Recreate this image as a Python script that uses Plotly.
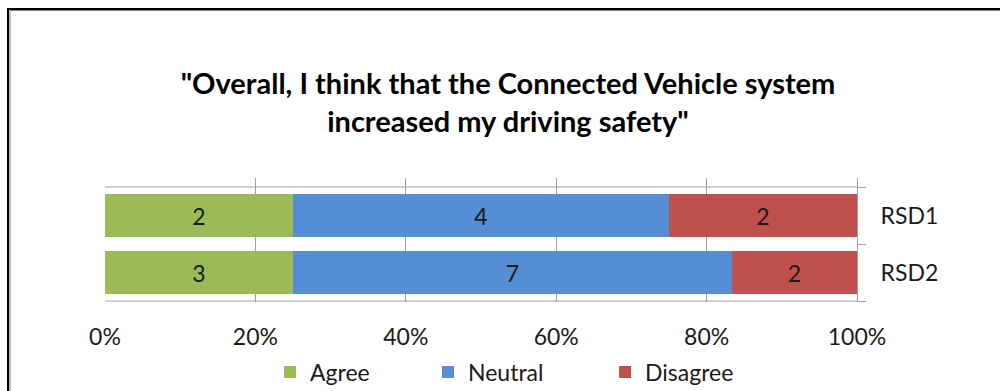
import plotly.graph_objects as go

categories = ["RSD1", "RSD2"]
agree = [2, 3]
neutral = [4, 7]
disagree = [2, 2]
x_tick_vals = [0, 20, 40, 60, 80, 100]
x_tick_text = ["0%", "20%", "40%", "60%", "80%", "100%"]
title_text = '"Overall, I think that the Connected Vehicle system<br>increased my driving safety"'

W, H = 1000, 391
L, R, T, B = 105, 857, 178, 302  # plot area in pixels

def px_x(px):
    return (px - L) / (R - L)

def px_y(py):
    return (B - py) / (B - T)

FONT = "Lato"
TXT = "#1a1a1a"
FS = 23
ypos = list(range(len(categories)))

fig = go.Figure()
series = [("Agree", agree, "#9BBB59", "legend"),
          ("Neutral", neutral, "#558ED5", "legend2"),
          ("Disagree", disagree, "#C0504D", "legend3")]
for name, vals, col, lg in series:
    fig.add_trace(go.Bar(
        y=ypos, x=vals, name=name, orientation="h",
        marker=dict(color=col, line=dict(width=0)),
        width=0.754,
        text=[str(v) for v in vals], textposition="inside",
        insidetextanchor="middle",
        textfont=dict(family=FONT, size=FS, color=TXT),
        legend=lg,
    ))

leg_common = dict(orientation="h", xref="container", yref="container",
                  yanchor="middle", xanchor="left", y=1 - 372 / H,
                  font=dict(family=FONT, size=FS, color=TXT),
                  bgcolor="rgba(0,0,0,0)", borderwidth=0)

fig.update_layout(
    width=W, height=H,
    margin=dict(l=L, r=W - R, t=T, b=H - B, pad=0, autoexpand=False),
    barmode="stack", barnorm="percent", bargap=0,
    plot_bgcolor="white", paper_bgcolor="white",
    title=dict(text="<b>" + title_text + "</b>", x=508 / W, xanchor="center",
               y=1 - 94 / H, yanchor="middle", yref="container",
               font=dict(family=FONT, size=29, color="#000")),
    xaxis=dict(range=[0, 100], tickvals=x_tick_vals, ticktext=x_tick_text,
               showgrid=True, gridcolor="#A0A0A0", gridwidth=1,
               zeroline=False, showline=False, ticks="",
               ticklabelstandoff=19,
               tickfont=dict(family=FONT, size=FS, color=TXT)),
    yaxis=dict(range=[1.517, -0.658], tickvals=ypos, ticktext=categories,
               side="right", showgrid=False, zeroline=False,
               showline=True, linecolor="#A0A0A0", linewidth=1,
               ticks="", ticklabelstandoff=18,
               minor=dict(tickvals=[-0.5, 0.5, 1.5], ticks="outside",
                          ticklen=8, tickcolor="#A0A0A0", tickwidth=1),
               tickfont=dict(family=FONT, size=FS, color=TXT)),
    legend=dict(x=(287 - 17) / W, **leg_common),
    legend2=dict(x=(445 - 17) / W, **leg_common),
    legend3=dict(x=(622 - 17) / W, **leg_common),
    showlegend=True,
)

# horizontal boundary lines of the category axis
for yv in (-0.5, 1.5):
    fig.add_shape(type="line", xref="paper", yref="y", x0=0, x1=1, y0=yv, y1=yv,
                  line=dict(color="#A0A0A0", width=1), layer="below")

# chart frame
fig.add_shape(type="rect", xref="paper", yref="paper",
              x0=px_x(8), x1=px_x(1100), y0=px_y(500), y1=px_y(9),
              line=dict(color="#000", width=2), fillcolor="rgba(0,0,0,0)")
fig.add_shape(type="rect", xref="paper", yref="paper",
              x0=px_x(10), x1=px_x(1100), y0=px_y(500), y1=px_y(10.5),
              line=dict(color="#808080", width=1), fillcolor="rgba(0,0,0,0)")

fig.write_html("out.html", config={"displayModeBar": False},
               post_script="document.body.style.margin='0';document.body.style.overflow='hidden';")
